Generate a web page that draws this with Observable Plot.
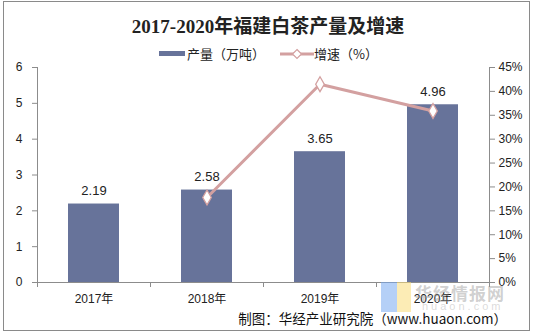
<!DOCTYPE html>
<html><head><meta charset="utf-8">
<script src="https://cdn.jsdelivr.net/npm/d3@7"></script>
<script src="https://cdn.jsdelivr.net/npm/@observablehq/plot@0.6"></script>
<style>
html,body{margin:0;padding:0;background:#fff;}
#wrap{position:relative;width:536px;height:336px;overflow:hidden;font-family:"Liberation Sans","Noto Sans CJK SC",sans-serif;}
#border{position:absolute;left:3px;top:1px;width:527px;height:330px;border:1px solid #8a8a8a;box-sizing:border-box;pointer-events:none;}
#title{position:absolute;left:0;top:11px;width:536px;text-align:center;font:bold 19px "Liberation Serif","Noto Sans CJK SC",serif;color:#222;}
.leg{position:absolute;top:44px;font:13px "Noto Sans CJK SC",sans-serif;color:#222;display:flex;align-items:center;}
#caption{position:absolute;right:29px;top:308px;font:13.5px "Noto Sans CJK SC","Liberation Sans",sans-serif;color:#111;}
#wm{position:absolute;left:415px;top:280px;font:bold 17px "Noto Sans CJK SC",sans-serif;color:rgba(150,150,150,0.45);letter-spacing:1px;}
#wm2{position:absolute;left:422px;top:300px;font:11px "Liberation Sans",sans-serif;color:rgba(150,150,150,0.35);letter-spacing:3px;}
#logo1{position:absolute;left:381px;top:282px;width:16px;height:30px;background:rgba(120,170,240,0.55);}
#logo2{position:absolute;left:397px;top:282px;width:14px;height:30px;background:rgba(250,220,120,0.55);}
#chart{position:absolute;left:0;top:0;}
</style></head>
<body>
<div id="wrap">
  <div id="chart"></div>
  <div id="logo1"></div><div id="logo2"></div>
  <div id="wm">华经情报网</div>
  <div id="wm2">huaon.com</div>
  <div id="title">2017-2020年福建白茶产量及增速</div>
  <div class="leg" style="left:159px;"><span style="display:inline-block;width:26px;height:5px;background:#67739A;margin-right:2px;"></span>产量（万吨）</div>
  <div class="leg" style="left:280px;"><svg width="34" height="12"><line x1="0" y1="6" x2="34" y2="6" stroke="#D3A0A0" stroke-width="3"/><path d="M17,1.5 L21.5,6 L17,10.5 L12.5,6 Z" fill="#fff" stroke="#D3A0A0" stroke-width="1.2"/></svg>增速（%）</div>
  <div id="caption">制图：华经产业研究院（www.huaon.com）</div>
  <div id="border"></div>
</div>
<script>
const years = ["2017年","2018年","2019年","2020年"];
const output = [2.19, 2.58, 3.65, 4.96];
const growth = [null, 17.8, 41.5, 35.9];
const leftTicks = [0,1,2,3,4,5,6];
const rightTicks = [0,5,10,15,20,25,30,35,40,45];

const yMax = 6, pMax = 45;
const toY = p => p * yMax / pMax;

const bars = years.map((y,i)=>({year:y, v:output[i]}));
const line = years.map((y,i)=>({year:y, g:growth[i]})).filter(d=>d.g!=null);

const axisColor = "#8c8c8c";

const plot = Plot.plot({
  width: 536, height: 336,
  marginTop: 67, marginBottom: 54, marginLeft: 37, marginRight: 47,
  style: {fontFamily: '"Liberation Sans","Noto Sans CJK SC",sans-serif', fontSize: "12px", color: "#222", background: "transparent"},
  x: {domain: years, paddingInner: 0.55, paddingOuter: 0.275, label: null},
  y: {domain: [0, yMax], label: null},
  marks: [
    Plot.barY(bars, {x: "year", y: "v", fill: "#67739A"}),
    Plot.text(bars, {x: "year", y: "v", text: d => d.v.toFixed(2), dy: -13, fontSize: 13, fill: "#222"}),
    Plot.line(line, {x: "year", y: d => toY(d.g), stroke: "#D3A0A0", strokeWidth: 3}),
    Plot.dot(line, {x: "year", y: d => toY(d.g), symbol: "diamond", r: 4.5, fill: "#fff", stroke: "#D3A0A0", strokeWidth: 1.3}),
    Plot.axisY({anchor: "left", ticks: leftTicks, tickFormat: d => String(d), tickSize: 5, tickPadding: 10, stroke: axisColor, fontSize: 12, label: null}),
    Plot.axisY({anchor: "right", ticks: rightTicks.map(toY), tickFormat: d => Math.round(d * pMax / yMax) + "%", tickSize: 5, tickPadding: 4, stroke: axisColor, fontSize: 12, label: null}),
    Plot.axisX({anchor: "bottom", tickSize: 0, tickPadding: 12, fontSize: 12, label: null}),
    (index, scales, values, dims) => {
      const g = d3.create("svg:g").attr("stroke", axisColor).attr("stroke-width", 1);
      const x0 = dims.marginLeft, x1 = dims.width - dims.marginRight;
      const y0 = dims.marginTop, y1 = dims.height - dims.marginBottom;
      g.append("line").attr("x1", x0+0.5).attr("x2", x0+0.5).attr("y1", y0).attr("y2", y1);
      g.append("line").attr("x1", x1+0.5).attr("x2", x1+0.5).attr("y1", y0).attr("y2", y1);
      g.append("line").attr("x1", x0).attr("x2", x1).attr("y1", y1+0.5).attr("y2", y1+0.5);
      const n = years.length;
      for (let i = 0; i <= n; i++) {
        const xx = Math.round(x0 + i * (x1 - x0) / n) + 0.5;
        g.append("line").attr("x1", xx).attr("x2", xx).attr("y1", y1).attr("y2", y1 + 5);
      }
      return g.node();
    }
  ]
});
document.getElementById("chart").appendChild(plot);
</script>
</body></html>
